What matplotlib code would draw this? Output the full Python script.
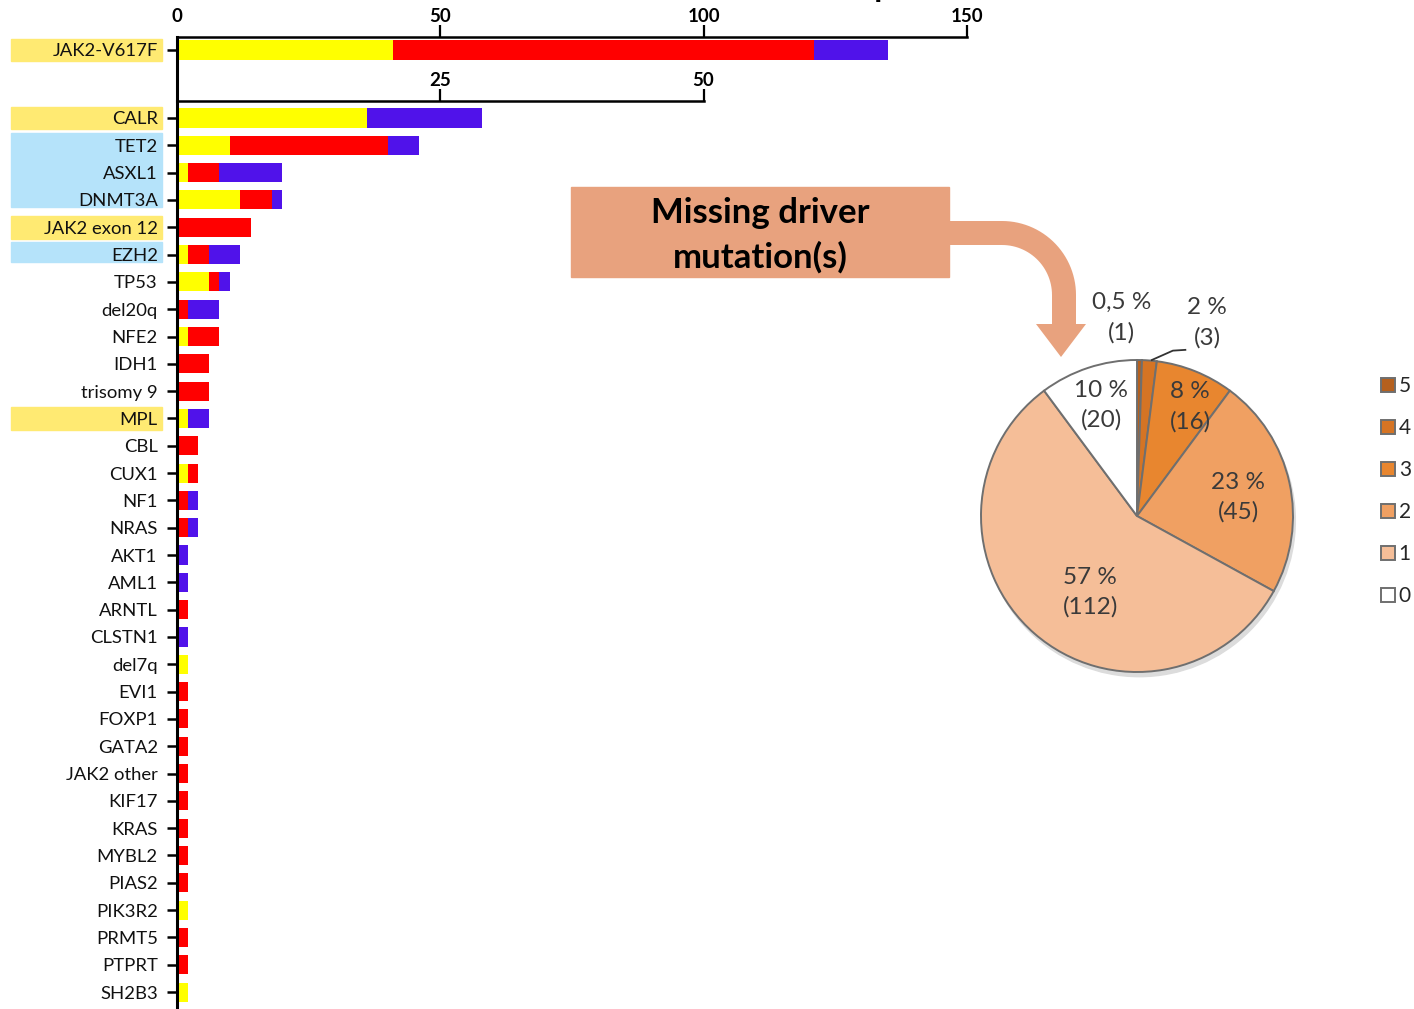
import numpy as np
import matplotlib
matplotlib.use("Agg")
import matplotlib.pyplot as plt
from matplotlib import transforms
from matplotlib.patches import Rectangle, PathPatch
from matplotlib.path import Path

plt.rcParams['font.family'] = ['Lato', 'DejaVu Sans']

# ---- bar chart data (number of patients per mutation) ----
top_gene = "JAK2-V617F"
top_yellow, top_red, top_blue = 41, 80, 14

genes = ["CALR", "TET2", "ASXL1", "DNMT3A", "JAK2 exon 12", "EZH2", "TP53", "del20q",
         "NFE2", "IDH1", "trisomy 9", "MPL", "CBL", "CUX1", "NF1", "NRAS", "AKT1", "AML1",
         "ARNTL", "CLSTN1", "del7q", "EVI1", "FOXP1", "GATA2", "JAK2 other", "KIF17",
         "KRAS", "MYBL2", "PIAS2", "PIK3R2", "PRMT5", "PTPRT", "SH2B3"]
yellow = [18, 5, 1, 6, 0, 1, 3, 0, 1, 0, 0, 1, 0, 1, 0, 0, 0, 0,
          0, 0, 1, 0, 0, 0, 0, 0, 0, 0, 0, 1, 0, 0, 1]
red = [0, 15, 3, 3, 7, 2, 1, 1, 3, 3, 3, 0, 2, 1, 1, 1, 0, 0,
       1, 0, 0, 1, 1, 1, 1, 1, 1, 1, 1, 0, 1, 1, 0]
blue = [11, 3, 6, 1, 0, 3, 1, 3, 0, 0, 0, 2, 0, 0, 1, 1, 1, 1,
        0, 1, 0, 0, 0, 0, 0, 0, 0, 0, 0, 0, 0, 0, 0]

driver_genes = ["JAK2-V617F", "CALR", "JAK2 exon 12", "MPL"]
epigenetic_groups = [["TET2", "ASXL1", "DNMT3A"], ["EZH2"]]

# ---- pie data (number of driver mutations missing) ----
pie_cats = ["5", "4", "3", "2", "1", "0"]
pie_counts = [1, 3, 16, 45, 112, 20]
pie_pct = ["0,5 %", "2 %", "8 %", "23 %", "57 %", "10 %"]

YELLOW, RED, BLUE = "#FFFF00", "#FF0000", "#5012EA"
HL_YELLOW, HL_BLUE = "#FFEA72", "#B5E3FA"
SALMON = "#E8A27E"
pie_colors = ["#B5601E", "#D57424", "#E8862F", "#F0A062", "#F5BE98", "#FFFFFF"]

W, H = 1414, 1009
fig = plt.figure(figsize=(W / 100, H / 100), dpi=100)
px = transforms.Affine2D().scale(1 / W, -1 / H).translate(0, 1) + fig.transFigure


def fx(p):
    return p / W


def fy(p):
    return 1 - p / H


# ---- top axis: JAK2-V617F ----
ax_top = fig.add_axes([fx(177.2), fy(101), 789.5 / W, 64 / H])
ax_top.barh([0], [top_yellow], color=YELLOW, height=0.7)
ax_top.barh([0], [top_red], left=[top_yellow], color=RED, height=0.7)
ax_top.barh([0], [top_blue], left=[top_yellow + top_red], color=BLUE, height=0.7)
ax_top.set_xlim(0, 150)
ax_top.set_ylim(1.868, -0.476)

# ---- main axis: other mutations (double scale) ----
ax = fig.add_axes([fx(177.2), 0, 789.5 / W, 908 / H])
ypos = np.arange(len(genes))
y_arr, r_arr, b_arr = np.array(yellow), np.array(red), np.array(blue)
ax.barh(ypos, y_arr, color=YELLOW, height=0.7)
ax.barh(ypos, r_arr, left=y_arr, color=RED, height=0.7)
ax.barh(ypos, b_arr, left=y_arr + r_arr, color=BLUE, height=0.7)
ax.set_xlim(0, 75)
ax.set_ylim(32.62, -0.622)

for a in (ax_top, ax):
    a.spines['right'].set_visible(False)
    a.spines['bottom'].set_visible(False)
    a.spines['top'].set_linewidth(1.8)
    a.spines['left'].set_linewidth(2.2)
    a.xaxis.tick_top()
    a.tick_params(axis='x', direction='out', length=8.5, width=1.6, labelsize=13.5, pad=0)
    a.tick_params(axis='y', direction='out', length=7, width=1.8, labelsize=13.3, pad=7,
                  labelcolor='#111111')
    a.set_facecolor('none')

ax_top.set_xticks([0, 50, 100, 150])
ax_top.xaxis.get_major_ticks()[0].tick2line.set_visible(False)
ax_top.set_yticks([0])
ax_top.set_yticklabels([top_gene])
ax.spines['top'].set_bounds(0, 50)
ax.set_xticks([25, 50])
ax.set_yticks(ypos)
ax.set_yticklabels(genes)
for a in (ax_top, ax):
    for lab in a.get_xticklabels():
        lab.set_fontweight('bold')

# highlight boxes behind driver / epigenetic gene labels
box_x, box_w = fx(11), 151 / W
tr_top = transforms.blended_transform_factory(fig.transFigure, ax_top.transData)
tr_main = transforms.blended_transform_factory(fig.transFigure, ax.transData)
ax_top.add_patch(Rectangle((box_x, -0.42), box_w, 0.84, transform=tr_top,
                           color=HL_YELLOW, clip_on=False, zorder=0))
for g in driver_genes:
    if g in genes:
        i = genes.index(g)
        ax.add_patch(Rectangle((box_x, i - 0.42), box_w, 0.84, transform=tr_main,
                               color=HL_YELLOW, clip_on=False, zorder=0))
for grp in epigenetic_groups:
    i0, i1 = genes.index(grp[0]), genes.index(grp[-1])
    ax.add_patch(Rectangle((box_x, i0 - 0.45), box_w, i1 - i0 + 0.72, transform=tr_main,
                           color=HL_BLUE, clip_on=False, zorder=0))

# title, cropped at the very top as in the original figure
fig.text(fx(712), fy(-3), "Number of patients with mutations", fontsize=23,
         fontweight='bold', ha='left', va='baseline')

# ---- "Missing driver mutation(s)" box and curved arrow ----
fig.add_artist(Rectangle((571, 187), 378, 90, transform=px, color=SALMON, zorder=1))
fig.text(fx(760), fy(235), "Missing driver\nmutation(s)", fontsize=25, fontweight='bold',
         ha='center', va='center', linespacing=1.45, zorder=3)

cx, cy, r_out, r_in = 1002, 295, 74, 50
t = np.linspace(-np.pi / 2, 0, 30)
outer = np.column_stack([cx + r_out * np.cos(t), cy + r_out * np.sin(t)])
inner = np.column_stack([cx + r_in * np.cos(t[::-1]), cy + r_in * np.sin(t[::-1])])
verts = np.vstack([[[949, cy - r_out]], outer,
                   [[cx + r_out, 324], [1086, 324], [1061, 357], [1036, 324], [cx + r_in, 324]],
                   inner, [[949, cy - r_in]], [[949, cy - r_out]]])
codes = [Path.MOVETO] + [Path.LINETO] * (len(verts) - 2) + [Path.CLOSEPOLY]
fig.add_artist(PathPatch(Path(verts, codes), transform=px, facecolor=SALMON,
                         edgecolor='none', zorder=1))

# ---- pie chart ----
pcx, pcy, pr = 1137, 516, 156
ax_pie = fig.add_axes([fx(pcx - pr), fy(pcy + pr), 2 * pr / W, 2 * pr / H])
ax_pie.add_patch(plt.Circle((0.015, -0.03), 1.0, color='#dcdcdc', zorder=0, clip_on=False))
wedges, _ = ax_pie.pie(pie_counts, colors=pie_colors, startangle=90, counterclock=False,
                       wedgeprops=dict(edgecolor='#6f6f6f', linewidth=1.4))
ax_pie.set_xlim(-1, 1)
ax_pie.set_ylim(-1, 1)
for w in wedges:
    w.set_clip_on(False)

label_xy = [(-0.10, 1.27), (0.45, 1.24), (0.34, 0.70), (0.65, 0.12), (-0.30, -0.49), (-0.23, 0.71)]
for (lx, ly), p, n in zip(label_xy, pie_pct, pie_counts):
    ax_pie.text(lx, ly, f"{p}\n({n})", ha='center', va='center', fontsize=17.5,
                color='#3a3a3a', linespacing=1.5)
ax_pie.plot([0.095, 0.23, 0.31], [1.0, 1.06, 1.065], color='#333333', lw=1.3, clip_on=False)

fig.legend(wedges, pie_cats, loc='upper left', bbox_to_anchor=(fx(1381), fy(376)),
           frameon=False, fontsize=15, handlelength=0.65, handleheight=0.65,
           handletextpad=0.2, labelspacing=1.06, borderpad=0, borderaxespad=0,
           labelcolor='#262626')

fig.savefig("out.png", dpi=100)
